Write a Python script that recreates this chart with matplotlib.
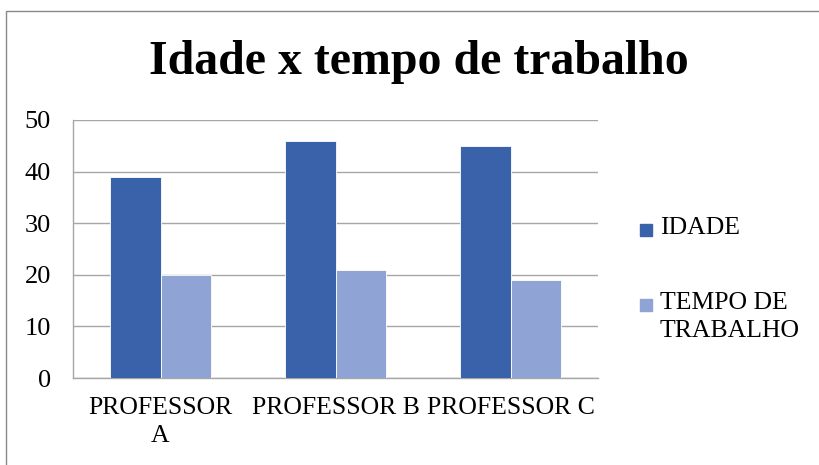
import numpy as np
import matplotlib
matplotlib.use('Agg')
import matplotlib.pyplot as plt
from matplotlib.patches import Rectangle

plt.rcParams['font.family'] = ['Liberation Serif', 'DejaVu Serif']

categories = ['PROFESSOR A', 'PROFESSOR B', 'PROFESSOR C']
tick_labels = ['PROFESSOR\nA', 'PROFESSOR B', 'PROFESSOR C']
idade = [39, 46, 45]
tempo = [20, 21, 19]
series_names = ['IDADE', 'TEMPO DE\nTRABALHO']
colors = ['#3A62AB', '#8FA3D4']

fig = plt.figure(figsize=(8.19, 4.65), dpi=100)
ax = fig.add_axes([73 / 819, 87 / 465, 525 / 819, 258 / 465])

x = np.arange(len(categories))
w = 0.286
ax.bar(x - w / 2, idade, w, color=colors[0], edgecolor='white', linewidth=0.6, zorder=3)
ax.bar(x + w / 2, tempo, w, color=colors[1], edgecolor='white', linewidth=0.6, zorder=3)

ax.set_xlim(-0.5, 2.5)
ax.set_ylim(0, 50)
ax.set_yticks([0, 10, 20, 30, 40, 50])
ax.set_xticks(x)
ax.set_xticklabels(tick_labels, linespacing=1.3)
ax.tick_params(axis='y', length=0, pad=16, labelsize=19)
ax.tick_params(axis='x', length=0, pad=14, labelsize=18.5)
ax.grid(axis='y', color='#A6A6A6', linewidth=1, zorder=0)
for s in ['top', 'right']:
    ax.spines[s].set_visible(False)
for s in ['left', 'bottom']:
    ax.spines[s].set_color('#A6A6A6')
    ax.spines[s].set_linewidth(1)

fig.text(419 / 819, 1 - 62 / 465, 'Idade x tempo de trabalho', ha='center', va='center',
         fontsize=34.5, fontweight='bold')

# legend drawn by hand so the square sits on the first line
leg_y = [230, 305]
for name, color, y in zip(series_names, colors, leg_y):
    fig.patches.append(Rectangle((640 / 819, 1 - (y + 6) / 465), 12 / 819, 12 / 465,
                                 transform=fig.transFigure, color=color))
    fig.text(660 / 819, 1 - (y - 13) / 465, name, ha='left', va='top', fontsize=18.5,
             linespacing=1.35)

# outer frame
fig.patches.append(Rectangle((6 / 819, -0.05), 1.1, 1 - 11 / 465 + 0.05,
                             transform=fig.transFigure, fill=False,
                             edgecolor='#888888', linewidth=1))

fig.savefig('out.png', dpi=100)
